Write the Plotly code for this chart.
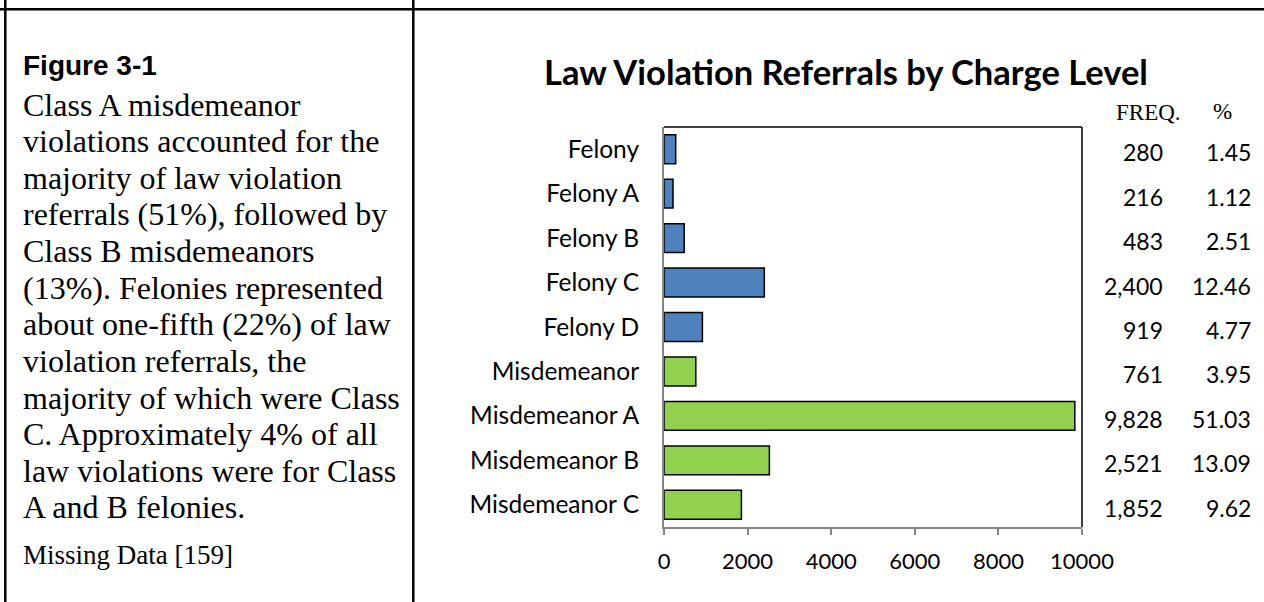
import plotly.graph_objects as go

categories = ["Felony", "Felony A", "Felony B", "Felony C", "Felony D",
              "Misdemeanor", "Misdemeanor A", "Misdemeanor B", "Misdemeanor C"]
freq = [280, 216, 483, 2400, 919, 761, 9828, 2521, 1852]
pct = [1.45, 1.12, 2.51, 12.46, 4.77, 3.95, 51.03, 13.09, 9.62]
groups = ["Felony"] * 5 + ["Misdemeanor"] * 4
x_ticks = [0, 2000, 4000, 6000, 8000, 10000]

title_text = "Law Violation Referrals by Charge Level"
fig_label = "Figure 3-1"
para_lines = [
    "Class A misdemeanor",
    "violations accounted for the",
    "majority of law violation",
    "referrals (51%), followed by",
    "Class B misdemeanors",
    "(13%). Felonies represented",
    "about one-fifth (22%) of law",
    "violation referrals, the",
    "majority of which were Class",
    "C. Approximately 4% of all",
    "law violations were for Class",
    "A and B felonies.",
]
missing_note = "Missing Data [159]"

W, H = 1264, 602
color_map = {"Felony": "#4F81BD", "Misdemeanor": "#92D050"}
sans = "Lato, Calibri, sans-serif"
serif = "Liberation Serif, Times New Roman, serif"

def px(x):
    return x / W

def py(y):
    return 1 - y / H

fig = go.Figure()
fig.add_trace(go.Bar(
    x=freq, y=categories, orientation="h",
    marker=dict(color=[color_map[g] for g in groups],
                line=dict(color="black", width=1.5)),
    hoverinfo="x+y",
))

ann = []
# chart title
ann.append(dict(text="<b>" + title_text + "</b>", x=px(846), y=py(71),
                xref="paper", yref="paper", showarrow=False,
                xanchor="center", yanchor="middle",
                font=dict(family=sans, size=34.5, color="black")))
# column headers
ann.append(dict(text="FREQ.", x=px(1148), y=py(112), xref="paper", yref="paper",
                showarrow=False, xanchor="center", yanchor="middle",
                font=dict(family=serif, size=23, color="black")))
ann.append(dict(text="%", x=px(1222), y=py(111), xref="paper", yref="paper",
                showarrow=False, xanchor="center", yanchor="middle",
                font=dict(family=serif, size=23, color="black")))
for c, f, p in zip(categories, freq, pct):
    ann.append(dict(text=f"{f:,}", x=px(1165), y=c, xref="paper", yref="y",
                    showarrow=False, xanchor="right", yanchor="middle", yshift=-3,
                    font=dict(family=sans, size=23, color="black")))
    ann.append(dict(text=f"{p:.2f}", x=px(1253), y=c, xref="paper", yref="y",
                    showarrow=False, xanchor="right", yanchor="middle", yshift=-3,
                    font=dict(family=sans, size=23, color="black")))
# left text
ann.append(dict(text="<b>" + fig_label + "</b>", x=px(21), y=py(66),
                xref="paper", yref="paper", showarrow=False,
                xanchor="left", yanchor="middle",
                font=dict(family="Liberation Sans, Arial, sans-serif", size=28, color="black")))
start, step = 104.5, (507.5 - 104.5) / 11
for i, line in enumerate(para_lines):
    ann.append(dict(text=line, x=px(21), y=py(start + i * step),
                    xref="paper", yref="paper", showarrow=False,
                    xanchor="left", yanchor="middle",
                    font=dict(family=serif, size=32, color="black")))
ann.append(dict(text=missing_note, x=px(21), y=py(555),
                xref="paper", yref="paper", showarrow=False,
                xanchor="left", yanchor="middle",
                font=dict(family=serif, size=27, color="black")))

shapes = [
    # table borders
    dict(type="line", xref="paper", yref="paper", x0=0, x1=1, y0=py(9.3), y1=py(9.3),
         line=dict(color="black", width=2.5)),
    dict(type="line", xref="paper", yref="paper", x0=px(5.3), x1=px(5.3), y0=0, y1=1,
         line=dict(color="black", width=2.5)),
    dict(type="line", xref="paper", yref="paper", x0=px(413.3), x1=px(413.3), y0=0, y1=1,
         line=dict(color="black", width=2.5)),
    # plot area border top & right
    dict(type="line", xref="x domain", yref="y domain", x0=0, x1=1, y0=1, y1=1,
         line=dict(color="black", width=1.5)),
    dict(type="line", xref="x domain", yref="y domain", x0=1, x1=1, y0=0, y1=1,
         line=dict(color="black", width=1.5)),
]

fig.update_layout(
    width=W, height=H, margin=dict(l=0, r=0, t=0, b=0, autoexpand=False),
    paper_bgcolor="white", plot_bgcolor="white",
    showlegend=False, bargap=0.35,
    annotations=ann, shapes=shapes,
    font=dict(family=sans, size=20, color="black"),
    xaxis=dict(domain=[px(664), px(1082)], range=[0, 10000], automargin=False,
               tickvals=x_ticks, ticktext=[str(t) for t in x_ticks],
               showgrid=False, zeroline=False, showline=True, linecolor="#868686",
               linewidth=2, ticks="outside", ticklen=6, tickcolor="#868686",
               tickwidth=2, ticklabelstandoff=8,
               tickfont=dict(family=sans, size=22, color="black")),
    yaxis=dict(domain=[py(527), py(127)], autorange="reversed", automargin=False,
               categoryorder="array", categoryarray=categories,
               showgrid=False, zeroline=False, showline=True, linecolor="#868686",
               linewidth=2, ticks="", ticklabelstandoff=18,
               tickfont=dict(family=sans, size=24.5, color="black")),
)

fig.write_html("out.html",
               config={"displayModeBar": False},
               post_script="document.body.style.margin='0';document.body.style.overflow='hidden';")
